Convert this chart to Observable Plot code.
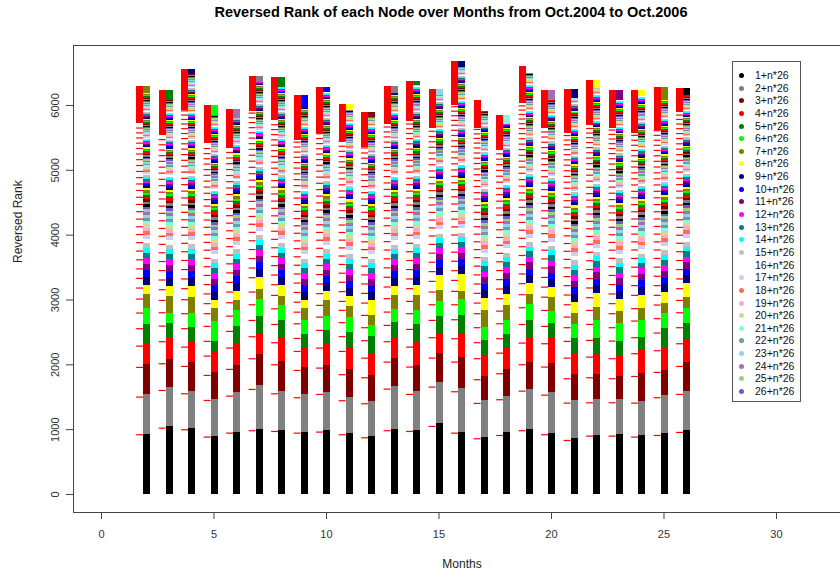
<!DOCTYPE html>
<html><head><meta charset="utf-8">
<script src="https://cdn.jsdelivr.net/npm/d3@7"></script>
<script src="https://cdn.jsdelivr.net/npm/@observablehq/plot@0.6"></script>
<style>
body{margin:0;background:#fff;font-family:"Liberation Sans",Arial,sans-serif;}
#wrap{position:relative;width:840px;height:578px;overflow:hidden;background:#fff;}
#wrap svg{position:absolute;left:0;top:0;}
#title{position:absolute;left:0;width:902px;top:4px;text-align:center;font-weight:bold;font-size:14.5px;color:#000;}
#legend{position:absolute;left:732px;top:61px;width:67px;height:339px;border:1px solid #555;background:#fff;}
.li{position:absolute;left:0;height:12px;font-size:10.5px;line-height:12px;color:#111;}
.dot{position:absolute;left:6px;top:4px;width:5px;height:5px;border-radius:50%;}
.lt{position:absolute;left:22px;white-space:nowrap;}
</style></head><body><div id="wrap"><div id="title">Reversed Rank of each Node over Months from Oct.2004 to Oct.2006</div><div id="legend"></div></div>
<script>
// ---------------- data ----------------
const months = [2,3,4,5,6,7,8,9,10,11,12,13,14,15,16,17,18,19,20,21,22,23,24,25,26];
const palette = ["#000000","#808080","#800000","#ff0000","#008000","#00ff00","#808000","#ffff00","#000080","#0000ff",
  "#800080","#ff00ff","#008080","#00ffff","#c0c0c0","#ffffff","#ccccff","#ff7050","#ffa8c8","#d0dc90",
  "#80ffd8","#6a9cb0","#90d4e8","#a070b0","#98d080","#6a5acd"];
const legendLabels = ["1+n*26","2+n*26","3+n*26","4+n*26","5+n*26","6+n*26","7+n*26","8+n*26","9+n*26","10+n*26",
  "11+n*26","12+n*26","13+n*26","14+n*26","15+n*26","16+n*26","17+n*26","18+n*26","19+n*26","20+n*26",
  "21+n*26","22+n*26","23+n*26","24+n*26","25+n*26","26+n*26"];
// cumulative tops of the first 8 nodes of each month
const barHeads = [
  [926,1548,2001,2330,2623,2870,3086,3230],
  [1054,1651,2083,2412,2634,2793,3056,3210],
  [1023,1595,2032,2351,2572,2798,3045,3215],
  [900,1471,1887,2187,2366,2670,2875,2994],
  [962,1574,1991,2335,2593,2840,2994,3138],
  [1003,1687,2160,2480,2752,3009,3164,3354],
  [988,1595,2052,2402,2685,2917,3056,3230],
  [962,1548,1965,2248,2469,2690,2875,2994],
  [988,1574,1991,2315,2531,2747,2994,3138],
  [946,1502,1929,2264,2505,2736,2901,3060],
  [900,1440,1836,2171,2443,2608,2762,2994],
  [998,1667,2094,2428,2659,2850,3071,3210],
  [988,1590,1991,2351,2623,2840,3071,3225],
  [1091,1723,2171,2489,2747,2983,3148,3380],
  [962,1636,2109,2480,2762,3004,3138,3395],
  [874,1450,1821,2145,2377,2572,2840,3020],
  [962,1512,1924,2258,2464,2685,2917,3086],
  [1003,1625,2042,2402,2685,2932,3086,3251],
  [946,1574,2026,2402,2634,2829,3035,3190],
  [859,1450,1847,2171,2402,2623,2788,2967],
  [915,1461,1852,2171,2402,2685,2890,3097],
  [926,1471,1821,2145,2361,2634,2824,3004],
  [910,1440,1872,2222,2428,2685,2865,3071],
  [946,1523,1914,2264,2557,2798,2943,3122],
  [988,1595,2042,2377,2634,2865,3045,3251]
];
// estimated thickness of the following thin node stripes (shared estimate)
const stripeSizes = [
  120,105,95,88,82,76,70,66,62,58,
  55,52,50,48,46,44,42,40,39,38,
  37,36,35,34,33,32,31,30,30,29,
  28,28,27,27,26,26,25,25,24,24,
  23,23,22,22,22,21,21,21,20,20,
  20,20,19,19,19,19,18,18,18,18,
  18,17,17,17,17,17,16,16,16,16,
  16,16,16,16,15,15,15,15,15,15,
  15,15,15,15,15,15,15,15,15,15,
  15,15,15,15,15,15,15,15,15,15,
  15,15,15,15,15,15,15,15,15,15,
  15,15,15,15,15,15,15,15,15,15,
  15,15,15,15,15,15,15,15,15,15,
  15,15,15,15,15,15,15,15,15,15
];
// top node of each month: [colour number, height]
const topNode = [[7,110],[5,140],[9,75],[6,145],[24,135],[2,90],[5,155],[10,190],[10,80],[8,90],[3,80],[2,110],[5,60],
  [23,100],[9,100],[16,170],[21,130],[16,100],[24,155],[9,145],[8,120],[11,155],[8,90],[7,195],[1,100]];
const totals = [6296,6235,6559,5993,5931,6451,6430,6157,6276,6018,5895,6296,6373,6250,6682,6080,5838,6595,6224,6250,6378,6235,6235,6276,6261];
// red rank marks: first eight of each month
const tickHeads = [
  [921,1502,1960,2289,2557,2798,3014,3184],
  [1023,1604,2016,2356,2597,2803,2993,3158],
  [998,1553,1975,2273,2557,2788,3004,3174],
  [885,1450,1836,2134,2361,2592,2788,2943],
  [946,1517,1929,2258,2515,2751,2957,3122],
  [983,1620,2093,2433,2684,2926,3122,3343],
  [972,1553,2001,2340,2622,2864,3070,3235],
  [946,1492,1913,2206,2406,2633,2812,2966],
  [962,1543,1949,2258,2531,2736,2917,3097],
  [921,1446,1847,2206,2434,2650,2840,2978],
  [874,1399,1800,2103,2371,2572,2762,2952],
  [983,1625,2042,2356,2608,2813,3020,3200],
  [972,1543,1965,2273,2546,2788,2978,3174],
  [1049,1656,2103,2418,2685,2926,3122,3287],
  [946,1584,2042,2402,2695,2926,3133,3302],
  [859,1404,1770,2094,2341,2572,2788,2952],
  [910,1461,1862,2180,2402,2633,2828,3019],
  [983,1594,2001,2335,2622,2880,3081,3251],
  [921,1532,1965,2325,2592,2838,3043,3198],
  [833,1409,1785,2103,2361,2572,2736,2926],
  [900,1414,1800,2118,2376,2623,2838,3035],
  [900,1414,1785,2094,2366,2572,2788,2943],
  [885,1409,1820,2171,2418,2675,2866,3071],
  [910,1492,1883,2217,2490,2712,2922,3071],
  [957,1543,1975,2325,2572,2803,2993,3174]
];
// estimated gaps between the following red marks (shared estimate)
const tickGaps = [150,145,140,135,130,125,120,118,115,112,110,105,100,98,95,92,90,88,85,82,80,78,75,72,70,68,65,62,60,58,55,52,50,48,45,42,40,38,35,32,30,28,26,24,22,20];
// height where the red marks merge into a solid block
const redStart = [5720,5540,5926,5411,5335,5900,5772,5463,5566,5450,5350,5700,5750,5650,6003,5648,5308,6029,5643,5566,5694,5643,5566,5617,5895];
const xTicks = [0,5,10,15,20,25,30];
const yTicks = [0,1000,2000,3000,4000,5000,6000];

// ---------------- build tables ----------------
const bars = [], ticks = [], blocks = [];
months.forEach((m, i) => {
  let prev = 0;
  barHeads[i].forEach((top, k) => { bars.push({m, y1: prev, y2: top, c: palette[k]}); prev = top; });
  const topStart = totals[i] - topNode[i][1];
  let k = 8;
  for (const s of stripeSizes) {
    if (prev >= topStart) break;
    const y2 = Math.min(prev + s, topStart);
    bars.push({m, y1: prev, y2, c: palette[k % 26]});
    prev = y2; k++;
  }
  if (prev < topStart) bars.push({m, y1: prev, y2: topStart, c: palette[k % 26]});
  bars.push({m, y1: topStart, y2: totals[i], c: palette[topNode[i][0] - 1]});
  let t = 0;
  tickHeads[i].forEach(v => { ticks.push({m, y: v}); t = v; });
  for (const g of tickGaps) { t += g; if (t >= redStart[i]) break; ticks.push({m, y: t}); }
  blocks.push({m, y1: redStart[i], y2: totals[i]});
});

const chart = Plot.plot({
  width: 840, height: 578,
  marginTop: 45, marginBottom: 66, marginLeft: 73, marginRight: -10,
  x: {domain: [-1.244, 33.289]},
  y: {domain: [-278, 6925]},
  color: {type: "identity"},
  style: {fontFamily: "Liberation Sans, Arial, sans-serif", fontSize: "11px", background: "transparent", overflow: "visible", color: "#222"},
  marks: [
    Plot.rect(bars, {x1: d => d.m - 0.13, x2: d => d.m + 0.2, y1: "y1", y2: "y2", fill: "c", shapeRendering: "crispEdges"}),
    Plot.rect(blocks, {x1: d => d.m - 0.44, x2: d => d.m - 0.13, y1: "y1", y2: "y2", fill: "#ff0000", shapeRendering: "crispEdges"}),
    Plot.ruleY(ticks, {y: "y", x1: d => d.m - 0.44, x2: d => d.m - 0.13, stroke: "#ff0000", strokeWidth: 1.2}),
    Plot.frame({stroke: "#444"}),
    Plot.axisY(yTicks, {tickSize: 7, tickFormat: () => "", label: null, stroke: "#444"}),
    Plot.text(yTicks, {y: d => d, text: d => String(d), frameAnchor: "left", dx: -15, rotate: -90, textAnchor: "middle", lineAnchor: "bottom", fill: "#333"}),
    Plot.axisX(xTicks, {tickSize: 7, tickPadding: 11, label: null, stroke: "#444", fill: "#333"}),
    Plot.text(["Months"], {text: d => d, frameAnchor: "bottom", dy: 55, fill: "#222", fontSize: 12}),
    Plot.text(["Reversed Rank"], {text: d => d, frameAnchor: "left", dx: -55, dy: -16, rotate: -90, fill: "#222", fontSize: 12})
  ]
});
const wrap = document.getElementById("wrap");
wrap.insertBefore(chart, wrap.firstChild);

const lg = document.getElementById("legend");
legendLabels.forEach((lab, i) => {
  const row = document.createElement("div");
  row.className = "li";
  row.style.top = (7 + i * 12.64) + "px";
  row.style.width = "66px";
  row.innerHTML = `<span class="dot" style="background:${palette[i]}"></span><span class="lt">${lab}</span>`;
  lg.appendChild(row);
});
</script></body></html>
